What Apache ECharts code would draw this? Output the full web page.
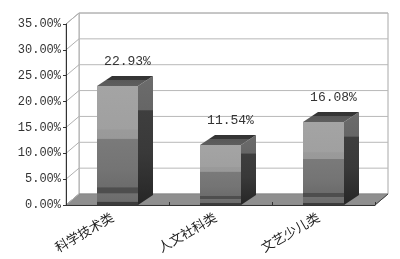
<!DOCTYPE html>
<html><head><meta charset="utf-8">
<script src="https://cdn.jsdelivr.net/npm/echarts@6/dist/echarts.min.js"></script>
<style>html,body{margin:0;padding:0;background:#fff}#c{width:400px;height:259px}</style>
</head><body><div id="c"></div>
<script>
const categories = ['科学技术类', '人文社科类', '文艺少儿类'];
const values = [22.93, 11.54, 16.08];
const valueLabels = ['22.93%', '11.54%', '16.08%'];
const yTicks = [0, 5, 10, 15, 20, 25, 30, 35];

const WDX = 13, WDY = -11;   // wall depth
const BDX = 15, BDY = -10;   // bar depth

const chart = echarts.init(document.getElementById('c'), null, {renderer: 'canvas'});

function wallItem(params, api) {
  const cs = params.coordSys;
  const L = cs.x, R = cs.x + cs.width, T = cs.y, B = cs.y + cs.height;
  return {type: 'group', children: [
    {type: 'polygon', shape: {points: [[L + WDX, T + WDY], [R + WDX, T + WDY], [R + WDX, B + WDY], [L + WDX, B + WDY]]},
      style: {fill: '#ffffff', stroke: '#a8a8a8', lineWidth: 1}},
    {type: 'polygon', shape: {points: [[L, T], [L + WDX, T + WDY], [L + WDX, B + WDY], [L, B]]},
      style: {fill: '#ffffff', stroke: '#a8a8a8', lineWidth: 1}},
    {type: 'polygon', shape: {points: [[L, B], [R, B], [R + WDX, B + WDY], [L + WDX, B + WDY]]},
      style: {fill: '#8f8f8f', stroke: '#888', lineWidth: 1}},
    {type: 'line', shape: {x1: R, y1: B, x2: R + WDX, y2: B + WDY}, style: {stroke: '#444', lineWidth: 1}}
  ]};
}

function gridItem(params, api) {
  const cs = params.coordSys;
  const y = api.coord([0, api.value(1)])[1];
  const L = cs.x, R = cs.x + cs.width;
  const ch = [];
  ch.push({type: 'line', shape: {x1: L, y1: y, x2: L + WDX, y2: y + WDY}, style: {stroke: '#b0b0b0', lineWidth: 1}});
  if (api.value(1) > 0) ch.push({type: 'line', shape: {x1: L + WDX, y1: y + WDY, x2: R + WDX, y2: y + WDY}, style: {stroke: '#b8b8b8', lineWidth: 1}});
  return {type: 'group', children: ch};
}

function barItem(params, api) {
  const idx = params.dataIndex;
  const base = api.coord([api.value(0), 0]);
  const top = api.coord([api.value(0), api.value(1)]);
  const bw = api.size([1, 0])[0] * 0.39;
  const x0 = Math.round(base[0] - bw / 2), x1 = Math.round(base[0] + bw / 2);
  const yb = base[1], yt = Math.round(top[1]);
  const lg = (stops) => new echarts.graphic.LinearGradient(0, 0, 0, 1, stops.map(s => ({offset: s[0], color: s[1]})));
  return {type: 'group', children: [
    {type: 'polygon', shape: {points: [[x0, yb], [x0, yt], [x1, yt], [x1, yb]]},
      style: {fill: lg([[0, '#a4a4a4'], [0.36, '#a0a0a0'], [0.37, '#9a9a9a'], [0.44, '#999999'], [0.45, '#7a7a7a'], [0.7, '#747474'], [0.85, '#6c6c6c'], [0.855, '#4e4e4e'], [0.9, '#4e4e4e'], [0.905, '#707070'], [0.97, '#6c6c6c'], [0.975, '#3c3c3c'], [1, '#3c3c3c']])}},
    {type: 'polygon', shape: {points: [[x1, yb], [x1, yt], [x1 + BDX, yt + BDY], [x1 + BDX, yb + BDY]]},
      style: {fill: lg([[0, '#6c6c6c'], [0.26, '#666666'], [0.27, '#3e3e3e'], [0.6, '#393939'], [1, '#262626']])}},
    {type: 'polygon', shape: {points: [[x0, yt], [x1, yt], [x1 + BDX, yt + BDY], [x0 + BDX, yt + BDY]]},
      style: {fill: lg([[0, '#333333'], [0.35, '#363636'], [0.4, '#585858'], [1, '#5e5e5e']])}},
    {type: 'text', style: {text: valueLabels[idx], x: base[0] + 10, y: yt - 24, align: 'center', verticalAlign: 'middle',
      fill: '#333', font: '13px "Liberation Mono", monospace'}}
  ]};
}

chart.setOption({
  animation: false,
  grid: {left: 66, right: 25, top: 24, bottom: 54},
  xAxis: {type: 'category', data: categories, z: 10,
    axisLine: {lineStyle: {color: '#333', width: 1}},
    axisTick: {show: true, inside: true, length: 3, lineStyle: {color: '#333'}},
    axisLabel: {rotate: 30, margin: 8, padding: [0, 6, 0, 0], color: '#222', fontSize: 13, fontFamily: '"Noto Sans CJK SC", sans-serif'},
    splitLine: {show: false}},
  yAxis: {type: 'value', min: 0, max: 35, interval: 5, z: 10,
    axisLine: {show: true, lineStyle: {color: '#333', width: 1}},
    axisTick: {show: true, length: 3, lineStyle: {color: '#333'}},
    axisLabel: {margin: 5, color: '#333', fontSize: 12, fontFamily: '"Liberation Mono", monospace',
      formatter: v => v.toFixed(2) + '%'},
    splitLine: {show: false}},
  series: [
    {type: 'custom', z: 1, renderItem: wallItem, data: [[0, 0]], silent: true},
    {type: 'custom', z: 2, renderItem: gridItem, data: yTicks.map(t => [0, t]), silent: true},
    {type: 'custom', z: 3, renderItem: barItem, data: values.map((v, i) => [i, v])}
  ]
});
</script></body></html>
